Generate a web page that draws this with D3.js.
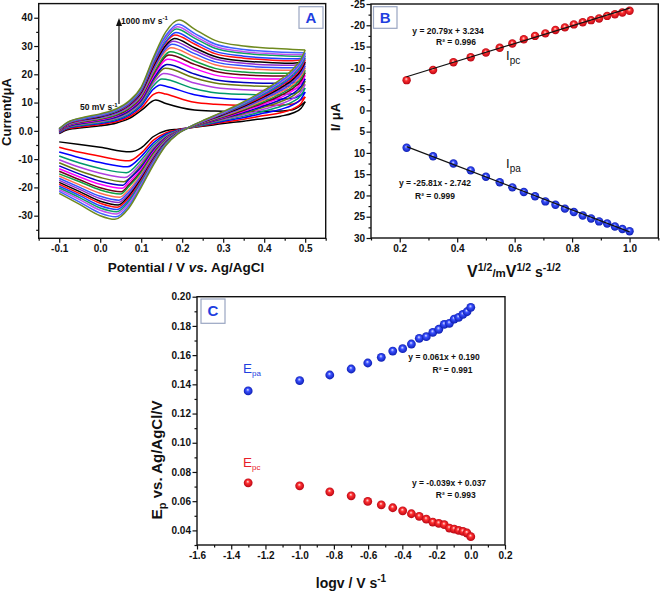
<!DOCTYPE html>
<html><head><meta charset="utf-8">
<script src="https://cdn.jsdelivr.net/npm/d3@7"></script>
<style>
body{margin:0;background:#fff;}
svg{display:block;font-family:"Liberation Sans",Arial,Helvetica,sans-serif;}
</style></head><body>
<svg id="chart" width="661" height="594"></svg>
<script>
// ---------------- DATA ----------------
const scanRates = [50,100,150,200,250,300,350,400,450,500,550,600,650,700,750,800,850,900,950,1000];
const curveColors = ["#000000","#ff0000","#0000ff","#00996b","#b040e0","#6b7a10","#0000c0","#ff00ff","#700018","#10a040",
                     "#ff7050","#3050ff","#9030d0","#000000","#ff1010","#2040ff","#10a060","#c050f0","#4060ff","#6f8a1f"];
// panel C : peak potentials vs log v
const logV = [-1.301,-1.0,-0.824,-0.699,-0.602,-0.523,-0.456,-0.398,-0.347,-0.301,-0.260,-0.222,-0.187,-0.155,-0.125,-0.097,-0.071,-0.046,-0.022,0.0];
const Epa = [0.1355,0.1426,0.1464,0.1505,0.1546,0.1585,0.1628,0.1644,0.1676,0.1715,0.1726,0.1756,0.1777,0.1811,0.1818,0.1847,0.1859,0.1879,0.1897,0.1927];
const Epc = [0.0726,0.0705,0.0664,0.0637,0.0598,0.0575,0.0555,0.0534,0.0514,0.0496,0.0477,0.0457,0.0448,0.0439,0.0416,0.0409,0.0400,0.0393,0.0382,0.0357];
// panel B : peak currents vs v^1/2
const sqrtV = [0.224,0.316,0.387,0.447,0.500,0.548,0.592,0.632,0.671,0.707,0.742,0.775,0.806,0.837,0.866,0.894,0.922,0.949,0.975,1.000];
const IpcB = [-7.1,-9.5,-11.3,-12.5,-13.6,-14.7,-15.7,-16.7,-17.5,-18.1,-18.9,-19.5,-20.2,-20.7,-21.2,-21.6,-22.2,-22.6,-23.0,-23.4];
const IpaB = [8.8,10.8,12.5,14.1,15.6,16.9,18.1,19.2,20.2,21.4,22.2,23.1,23.9,24.7,25.4,26.1,26.6,27.3,27.9,28.4];
const fitPc = [-20.79,-3.234];   // slope, intercept as plotted
const fitPa = [25.81,2.742];
// panel A : raw CV peak currents
const IpaRaw = [10.9,13.6,16.2,18.3,20.3,22.1,23.5,25.3,26.8,28.0,29.4,30.6,31.7,32.7,33.9,34.8,36.0,36.8,37.7,39.2];
const IpcRaw = [-7.4,-10.6,-12.7,-14.8,-16.5,-18.0,-19.2,-20.3,-21.5,-22.3,-23.5,-24.5,-25.3,-26.2,-27.0,-27.8,-28.6,-29.4,-30.4,-31.3];
// panel A : forward (anodic) sweep, currents of the 20 curves at each potential
const fwdE = [-0.1,-0.08,-0.04,0.0,0.04,0.07,0.1,0.13,0.16,0.23,0.28,0.35,0.42,0.47,0.5];
const fwdI = [
 [-1.0,-0.8,-0.7,-0.5,-0.4,-0.3,-0.2,-0.1,0.0,0.1,0.2,0.3,0.3,0.4,0.5,0.5,0.6,0.6,0.7,0.8],
 [0.4,0.7,0.9,1.1,1.3,1.4,1.6,1.7,1.9,2.0,2.1,2.2,2.3,2.4,2.5,2.6,2.7,2.8,2.9,3.0],
 [1.2,1.5,1.9,2.1,2.4,2.6,2.8,3.0,3.2,3.4,3.6,3.7,3.9,4.0,4.1,4.2,4.4,4.5,4.6,4.8],
 [1.8,2.2,2.6,2.9,3.2,3.5,3.7,3.9,4.2,4.3,4.5,4.7,4.9,5.0,5.2,5.3,5.5,5.6,5.8,6.0],
 [2.8,3.3,3.7,4.1,4.5,4.8,5.0,5.3,5.6,5.8,6.1,6.3,6.5,6.7,6.9,7.0,7.2,7.4,7.5,7.8],
 [4.3,4.9,5.5,5.9,6.4,6.8,7.1,7.5,7.8,8.0,8.4,8.6,8.9,9.1,9.3,9.5,9.8,10.0,10.2,10.5],
 [7.2,8.0,8.8,9.4,10.0,10.5,10.9,11.4,11.9,12.2,12.6,13.0,13.3,13.6,14.0,14.2,14.6,14.8,15.1,15.5],
 [10.6,12.9,14.8,16.0,17.0,17.8,18.5,19.3,20.0,20.5,21.2,21.8,22.4,22.9,23.5,24.0,24.6,25.0,25.5,26.0],
 [9.7,13.0,15.8,18.1,20.1,22.0,23.3,25.0,26.4,27.5,28.3,29.0,29.8,30.3,31.2,31.6,32.6,33.1,33.7,35.0],
 [7.4,10.1,12.8,14.9,16.9,18.7,20.1,22.0,23.5,24.7,26.1,27.3,28.4,29.4,30.7,31.6,32.8,33.6,34.5,36.0],
 [7.0,9.4,11.7,13.5,15.3,16.9,18.1,19.7,21.1,22.1,23.4,24.4,25.4,26.3,27.3,28.1,29.2,29.9,30.7,32.0],
 [6.8,9.0,11.1,12.9,14.5,16.0,17.1,18.6,19.8,20.8,22.0,23.0,23.9,24.7,25.7,26.4,27.4,28.0,28.8,30.0],
 [6.9,9.0,11.1,12.7,14.3,15.7,16.8,18.3,19.4,20.4,21.5,22.4,23.3,24.1,25.0,25.7,26.7,27.3,28.0,29.2],
 [7.5,9.5,11.5,13.1,14.6,15.9,17.0,18.3,19.5,20.4,21.4,22.3,23.2,23.9,24.8,25.5,26.4,27.0,27.7,28.8],
 [10.3,12.0,13.7,15.1,16.4,17.6,18.4,19.6,20.6,21.4,22.3,23.0,23.8,24.4,25.2,25.8,26.5,27.0,27.6,28.6]
];
// panel A : reverse (cathodic) sweep
const revE = [0.49,0.47,0.44,0.4,0.35,0.3,0.25,0.22,0.19,0.16,0.13,0.1,0.07,0.0,-0.05,-0.1];
const revI = [
 [8.0,9.7,11.3,12.6,13.8,14.9,15.8,16.9,17.8,18.6,19.4,20.2,20.9,21.5,22.2,22.8,23.5,24.0,24.6,25.5],
 [6.3,7.8,9.2,10.3,11.4,12.4,13.2,14.2,15.0,15.7,16.4,17.1,17.7,18.2,18.9,19.4,20.0,20.5,21.0,21.8],
 [5.2,6.4,7.6,8.6,9.5,10.3,11.0,11.8,12.5,13.1,13.7,14.2,14.8,15.2,15.8,16.2,16.7,17.1,17.5,18.2],
 [4.4,5.4,6.3,7.0,7.7,8.4,8.9,9.5,10.0,10.4,10.9,11.4,11.8,12.1,12.5,12.9,13.3,13.6,13.9,14.4],
 [3.4,4.1,4.7,5.2,5.7,6.1,6.5,6.9,7.3,7.6,7.9,8.2,8.5,8.7,9.0,9.2,9.5,9.7,9.9,10.3],
 [2.6,3.0,3.4,3.7,4.0,4.3,4.5,4.7,4.9,5.1,5.3,5.5,5.7,5.8,6.0,6.1,6.3,6.4,6.6,6.8],
 [1.6,1.8,2.0,2.1,2.3,2.4,2.5,2.6,2.7,2.8,2.9,3.0,3.1,3.1,3.2,3.3,3.4,3.4,3.5,3.6],
 [1.1,1.1,1.2,1.2,1.2,1.3,1.3,1.3,1.3,1.3,1.4,1.4,1.4,1.4,1.4,1.4,1.5,1.5,1.5,1.5],
 [0.6,0.4,0.2,0.1,0.0,-0.1,-0.2,-0.3,-0.3,-0.4,-0.5,-0.5,-0.6,-0.7,-0.7,-0.8,-0.8,-0.9,-0.9,-1.0],
 [0.0,-0.7,-1.2,-1.6,-2.0,-2.3,-2.6,-2.8,-3.1,-3.2,-3.5,-3.7,-3.9,-4.1,-4.3,-4.4,-4.6,-4.8,-5.0,-5.2],
 [-2.0,-3.3,-4.2,-5.1,-5.8,-6.4,-6.9,-7.4,-7.9,-8.2,-8.7,-9.2,-9.5,-9.9,-10.2,-10.5,-10.9,-11.2,-11.6,-12.0],
 [-6.0,-7.9,-9.1,-10.3,-11.3,-12.2,-12.9,-13.6,-14.3,-14.7,-15.4,-16.0,-16.5,-17.0,-17.5,-18.0,-18.4,-18.9,-19.5,-20.0],
 [-7.2,-10.4,-12.4,-14.4,-16.2,-17.0,-17.1,-18.1,-19.1,-19.7,-20.8,-21.6,-22.3,-23.0,-23.7,-24.4,-25.0,-25.7,-26.5,-27.3],
 [-5.8,-9.0,-11.2,-13.3,-15.0,-16.5,-17.8,-18.9,-20.1,-20.9,-22.1,-23.1,-23.9,-24.9,-25.6,-26.5,-27.3,-28.1,-29.1,-30.0],
 [-4.8,-7.6,-9.5,-11.4,-12.9,-14.2,-15.3,-16.3,-17.3,-18.0,-19.1,-20.0,-20.7,-21.5,-22.2,-22.9,-23.6,-24.3,-25.2,-26.0],
 [-3.9,-5.8,-7.5,-8.9,-10.2,-11.3,-12.4,-13.4,-14.3,-15.2,-16.0,-16.8,-17.5,-18.2,-18.9,-19.6,-20.2,-20.8,-21.4,-22.1]
];
// tick values
const aXMajor = [-0.1,0.0,0.1,0.2,0.3,0.4,0.5], aXMinor = [-0.15,-0.05,0.05,0.15,0.25,0.35,0.45,0.55];
const aYMajor = [-30,-20,-10,0,10,20,30,40], aYMinor = [-35,-25,-15,-5,5,15,25,35];
const bXMajor = [0.2,0.4,0.6,0.8,1.0], bXMinor = [0.1,0.3,0.5,0.7,0.9,1.1];
const bYMajor = [-25,-20,-15,-10,-5,0,5,10,15,20,25,30], bYMinor = [-22.5,-17.5,-12.5,-7.5,-2.5,2.5,7.5,12.5,17.5,22.5,27.5];
const cXMajor = [-1.6,-1.4,-1.2,-1.0,-0.8,-0.6,-0.4,-0.2,0.0,0.2], cXMinor = [-1.5,-1.3,-1.1,-0.9,-0.7,-0.5,-0.3,-0.1,0.1];
const cYMajor = [0.04,0.06,0.08,0.10,0.12,0.14,0.16,0.18,0.20], cYMinor = [0.03,0.05,0.07,0.09,0.11,0.13,0.15,0.17,0.19];

// ---------------- DRAW ----------------
const svg = d3.select("#chart");
const BLUE = "#1f3fe0", RED = "#e8202a";
const defs = svg.append("defs");
function ballGrad(id, c0, c1, c2){
  const g = defs.append("radialGradient").attr("id",id).attr("cx","50%").attr("cy","50%").attr("r","55%").attr("fx","45%").attr("fy","35%");
  g.append("stop").attr("offset","0%").attr("stop-color",c0);
  g.append("stop").attr("offset","35%").attr("stop-color",c1);
  g.append("stop").attr("offset","100%").attr("stop-color",c2);
}
ballGrad("gRed","#ffe0e0","#ff3030","#b00010");
ballGrad("gBlue","#e0e4ff","#3a50ff","#0818a8");

function drawAxes(x, y, xMaj, xMin, yMaj, yMin, xFmt, yFmt){
  const [x0,x1] = x.range(), [y0,y1] = y.range();
  const yb = Math.max(y0,y1), yt = Math.min(y0,y1);
  const gx = svg.append("g").attr("transform",`translate(0,${yb})`)
    .call(d3.axisBottom(x).tickValues(xMaj).tickFormat(xFmt).tickSize(4.5).tickPadding(2.5));
  svg.append("g").attr("transform",`translate(0,${yb})`)
    .call(d3.axisBottom(x).tickValues(xMin).tickFormat("").tickSize(2.5)).select(".domain").remove();
  const gy = svg.append("g").attr("transform",`translate(${x0},0)`)
    .call(d3.axisLeft(y).tickValues(yMaj).tickFormat(yFmt).tickSize(4.5).tickPadding(1.5));
  svg.append("g").attr("transform",`translate(${x0},0)`)
    .call(d3.axisLeft(y).tickValues(yMin).tickFormat("").tickSize(2.5)).select(".domain").remove();
  [gx,gy].forEach(g=>{ g.select(".domain").remove();
    g.selectAll("text").attr("font-family",'"Liberation Sans",Arial,sans-serif').attr("font-size",10).attr("font-weight","bold").attr("fill","#111"); });
  svg.selectAll(".tick line").attr("stroke","#111").attr("stroke-width",1.2);
  svg.append("rect").attr("x",x0).attr("y",yt).attr("width",x1-x0).attr("height",yb-yt)
    .attr("fill","none").attr("stroke","#111").attr("stroke-width",1.4);
}
function rich(x, y, parts, attrs){
  const t = svg.append("text").attr("x",x).attr("y",y);
  Object.entries(attrs||{}).forEach(([k,v])=>t.attr(k,v));
  parts.forEach(p=>{
    const s = t.append("tspan").text(p.t);
    if(p.size) s.attr("font-size",p.size);
    if(p.dy) s.attr("dy",p.dy);
    if(p.italic) s.attr("font-style","italic");
    if(p.weight) s.attr("font-weight",p.weight);
  });
  return t;
}
function labelBox(x,y,w,h,txt){
  svg.append("rect").attr("x",x).attr("y",y).attr("width",w).attr("height",h)
    .attr("fill","#fff").attr("stroke","#9aa6c2").attr("stroke-width",1.2);
  svg.append("text").attr("x",x+w/2).attr("y",y+h/2+5.2).attr("text-anchor","middle")
    .attr("font-size",15).attr("font-weight","bold").attr("fill",BLUE).text(txt);
}
const f1 = d => d.toFixed(1), f2 = d => d.toFixed(2), fi = d => String(Math.round(d));

// ===== Panel A =====
const xA = d3.scaleLinear([-0.15,0.55],[38.7,325.7]);
const yA = d3.scaleLinear([-38,45],[238.3,3.6]);
const lineA = d3.line().x(d=>xA(d[0])).y(d=>yA(d[1])).curve(d3.curveMonotoneX);
const gA = svg.append("g");
scanRates.forEach((v,i)=>{
  let fw = fwdE.map((e,j)=>[e,fwdI[j][i]]).filter(p=>Math.abs(p[0]-Epa[i])>0.0125);
  fw.push([Epa[i],IpaRaw[i]]); fw.sort((a,b)=>a[0]-b[0]);
  let rv = revE.map((e,j)=>[e,revI[j][i]]).filter(p=>Math.abs(p[0]-Epc[i])>0.0125);
  rv.push([Epc[i],IpcRaw[i]]); rv.push([0.5,fwdI[fwdI.length-1][i]]); rv.sort((a,b)=>a[0]-b[0]);
  [fw,rv].forEach(pts=>gA.append("path").attr("d",lineA(pts)).attr("fill","none")
    .attr("stroke",curveColors[i]).attr("stroke-width",1.5).attr("stroke-linejoin","round"));
});
drawAxes(xA,yA,aXMajor,aXMinor,aYMajor,aYMinor,f1,d=>d===0?"0.0":fi(d));
labelBox(299,6.7,24,21.6,"A");
// arrow
svg.append("line").attr("x1",119).attr("x2",119).attr("y1",104).attr("y2",25).attr("stroke","#111").attr("stroke-width",1.2);
svg.append("path").attr("d","M116,26 L119,18 L122,26 Z").attr("fill","#111");
rich(121,23.5,[{t:"1000 mV s"},{t:"-1",size:6,dy:-3.5}],{"font-size":8.5,"font-weight":"bold","fill":"#111"});
rich(80,110,[{t:"50 mV s"},{t:"-1",size:6,dy:-3.5}],{"font-size":8.5,"font-weight":"bold","fill":"#111"});
rich(0,0,[{t:"Current/μA"}],{"font-size":13,"font-weight":"bold","text-anchor":"middle","transform":"translate(11,112) rotate(-90)","fill":"#111"});
rich(186,272,[{t:"Potential / V "},{t:"vs.",italic:true},{t:" Ag/AgCl"}],{"font-size":13.5,"font-weight":"bold","text-anchor":"middle","fill":"#111"});

// ===== Panel B =====
const xB = d3.scaleLinear([0.1,1.1],[371,658.3]);
const yB = d3.scaleLinear([-25,30],[4,238]);
drawAxes(xB,yB,bXMajor,bXMinor,bYMajor,bYMinor,f1,fi);
svg.append("g").selectAll("circle.pc").data(sqrtV).join("circle")
  .attr("cx",d=>xB(d)).attr("cy",(d,i)=>yB(IpcB[i])).attr("r",4.2).attr("fill","url(#gRed)");
svg.append("g").selectAll("circle.pa").data(sqrtV).join("circle")
  .attr("cx",d=>xB(d)).attr("cy",(d,i)=>yB(IpaB[i])).attr("r",4.2).attr("fill","url(#gBlue)");
const xs = [sqrtV[0], sqrtV[sqrtV.length-1]];
[fitPc,fitPa].forEach(f=>{
  svg.append("line").attr("x1",xB(xs[0])).attr("x2",xB(xs[1]))
    .attr("y1",yB(f[0]*xs[0]+f[1])).attr("y2",yB(f[0]*xs[1]+f[1]))
    .attr("stroke","#111").attr("stroke-width",1.2);
});
labelBox(373.5,6.7,23.5,21.6,"B");
const eqA = {"font-size":8.5,"font-weight":"bold","text-anchor":"middle","fill":"#111"};
rich(448,34.3,[{t:"y = 20.79x + 3.234"}],eqA);
rich(456,44.5,[{t:"R² = 0.996"}],eqA);
rich(435,186,[{t:"y = -25.81x - 2.742"}],eqA);
rich(435,198.5,[{t:"R² = 0.999"}],eqA);
rich(506,60,[{t:"I",size:13},{t:"pc",size:10,dy:3.5}],{"fill":"#111"});
rich(506,168,[{t:"I",size:13},{t:"pa",size:10,dy:3.5}],{"fill":"#111"});
rich(0,0,[{t:"I/ μA"}],{"font-size":13,"font-weight":"bold","text-anchor":"middle","transform":"translate(340,117) rotate(-90)","fill":"#111"});
rich(514,277,[{t:"V",size:16},{t:"1/2",size:10.5,dy:-6.5},{t:"/m",size:11.5,dy:6.5},{t:"V",size:16},{t:"1/2",size:10.5,dy:-6.5},{t:" s",size:14,dy:6.5},{t:"-1/2",size:10.5,dy:-6.5}],
  {"font-weight":"bold","text-anchor":"middle","fill":"#111"});

// ===== Panel C =====
const xC = d3.scaleLinear([-1.6,0.2],[197,505]);
const yC = d3.scaleLinear([0.03,0.20],[545,296.7]);
drawAxes(xC,yC,cXMajor,cXMinor,cYMajor,cYMinor,f1,f2);
svg.append("g").selectAll("circle").data(logV).join("circle")
  .attr("cx",d=>xC(d)).attr("cy",(d,i)=>yC(Epa[i])).attr("r",4.4).attr("fill","url(#gBlue)");
svg.append("g").selectAll("circle").data(logV).join("circle")
  .attr("cx",d=>xC(d)).attr("cy",(d,i)=>yC(Epc[i])).attr("r",4.4).attr("fill","url(#gRed)");
labelBox(201,299,24,24.3,"C");
rich(243,373,[{t:"E",size:13.5},{t:"pa",size:8,dy:3}],{"fill":BLUE});
rich(243,467,[{t:"E",size:13.5},{t:"pc",size:8,dy:3}],{"fill":RED});
rich(444,360,[{t:"y = 0.061x + 0.190"}],eqA);
rich(452.5,373.3,[{t:"R² = 0.991"}],eqA);
rich(449,486,[{t:"y = -0.039x + 0.037"}],eqA);
rich(455.8,498.3,[{t:"R² = 0.993"}],eqA);
rich(0,0,[{t:"E",size:15.5},{t:"p",size:11,dy:4},{t:" vs. Ag/AgCl/V",size:15,dy:-4}],
  {"font-weight":"bold","text-anchor":"middle","transform":"translate(162,460) rotate(-90)","fill":"#111"});
rich(351,588,[{t:"logv / V s"},{t:"-1",size:10,dy:-6}],{"font-size":14,"font-weight":"bold","text-anchor":"middle","fill":"#111"});
</script></body></html>
